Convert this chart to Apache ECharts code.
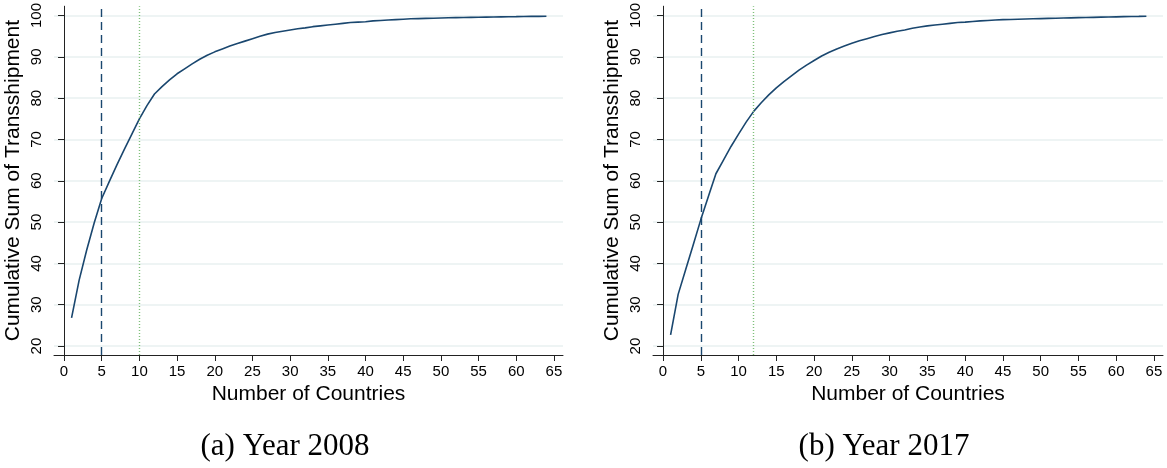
<!DOCTYPE html>
<html>
<head>
<meta charset="utf-8">
<script src="https://cdn.jsdelivr.net/npm/echarts@6/dist/echarts.min.js"></script>
<style>
  html, body { margin: 0; padding: 0; background: #fff; }
  #main { width: 1167px; height: 468px; }
</style>
</head>
<body>
<div id="main"></div>
<script>
// number of countries (x)
var countries = [1, 2, 3, 4, 5, 6, 7, 8, 9, 10, 11, 12, 13, 14, 15, 16,
  17, 18, 19, 20, 21, 22, 23, 24, 25, 26, 27, 28, 29, 30, 31, 32,
  33, 34, 35, 36, 37, 38, 39, 40, 41, 42, 43, 44, 45, 46, 47, 48,
  49, 50, 51, 52, 53, 54, 55, 56, 57, 58, 59, 60, 61, 62, 63, 64];

// cumulative sum of transshipment, year 2008
var cum2008 = [26.8, 35.9, 43.2, 49.8, 55.7, 59.8, 63.8, 67.6, 71.3, 75.0, 78.2, 81.0, 82.8, 84.4, 85.9, 87.1,
  88.3, 89.4, 90.4, 91.2, 91.9, 92.6, 93.2, 93.8, 94.4, 95.0, 95.5, 95.9, 96.2, 96.5, 96.8, 97.0,
  97.3, 97.5, 97.7, 97.9, 98.1, 98.3, 98.4, 98.5, 98.7, 98.8, 98.9, 99.0, 99.1, 99.2, 99.25, 99.3,
  99.35, 99.4, 99.45, 99.5, 99.53, 99.56, 99.59, 99.62, 99.65, 99.68, 99.7, 99.72, 99.75, 99.78, 99.8, 99.82];

// cumulative sum of transshipment, year 2017
var cum2017 = [22.7, 32.5, 38.5, 44.5, 50.6, 56.2, 61.7, 65.0, 68.3, 71.3, 74.2, 76.8, 78.9, 80.8, 82.5, 84.0,
  85.4, 86.8, 88.0, 89.1, 90.2, 91.1, 91.9, 92.6, 93.3, 93.9, 94.4, 94.9, 95.4, 95.8, 96.2, 96.5,
  96.9, 97.2, 97.5, 97.7, 97.9, 98.1, 98.3, 98.4, 98.55, 98.7, 98.8, 98.9, 99.0, 99.05, 99.1, 99.15,
  99.2, 99.25, 99.3, 99.35, 99.4, 99.44, 99.48, 99.52, 99.56, 99.6, 99.64, 99.68, 99.72, 99.75, 99.78, 99.82];

var xTicks = [0, 5, 10, 15, 20, 25, 30, 35, 40, 45, 50, 55, 60, 65];
var yTicks = [20, 30, 40, 50, 60, 70, 80, 90, 100];
var dashLine = [5, 5];      // dashed reference lines (a), (b)
var dotLine = [10, 12];     // dotted reference lines (a), (b)
var captions = ['(a) Year 2008', '(b) Year 2017'];

var navy = '#1a476f';
var sans = 'Liberation Sans, Arial, sans-serif';

function pair(ys) {
  return ys.map(function (v, i) { return [countries[i], v]; });
}

function xAxisOf(idx) {
  return {
    gridIndex: idx, type: 'value', min: -1.33, max: 66.2,
    name: 'Number of Countries', nameLocation: 'middle', nameGap: 28,
    nameTextStyle: { fontFamily: sans, fontSize: 21, color: '#000' },
    axisLine: { lineStyle: { color: '#222', width: 1 } },
    axisTick: { length: 6, customValues: xTicks, lineStyle: { color: '#222' } },
    axisLabel: { customValues: xTicks, margin: 9, fontFamily: sans, fontSize: 15, color: '#000' },
    splitLine: { show: false }
  };
}

function yAxisOf(idx) {
  return {
    gridIndex: idx, type: 'value', min: 17.83, max: 102.25,
    name: 'Cumulative Sum of Transshipment', nameLocation: 'middle', nameGap: 30,
    nameTextStyle: { fontFamily: sans, fontSize: 21, color: '#000' },
    axisLine: { show: true, lineStyle: { color: '#222', width: 1 } },
    axisTick: { show: true, length: 6, customValues: yTicks, lineStyle: { color: '#222' } },
    axisLabel: { customValues: yTicks, rotate: 90, margin: 10, fontFamily: sans, fontSize: 15, color: '#000' },
    splitLine: { show: true, lineStyle: { color: '#e8f0f1', width: 1.5 } }
  };
}

function seriesOf(idx, ys) {
  return {
    type: 'line', xAxisIndex: idx, yAxisIndex: idx,
    data: pair(ys), showSymbol: false, symbol: 'none',
    lineStyle: { color: navy, width: 1.6 },
    silent: true, animation: false,
    markLine: {
      symbol: 'none', silent: true, animation: false,
      label: { show: false },
      data: [
        { xAxis: dashLine[idx], lineStyle: { color: navy, type: [8, 5], width: 1.4 } },
        { xAxis: dotLine[idx], lineStyle: { color: '#7fc07a', type: [1, 2], width: 1.4 } }
      ]
    }
  };
}

var myChart = echarts.init(document.getElementById('main'));
var option = {
  backgroundColor: '#fff',
  animation: false,
  grid: [
    { left: 54, right: 604, top: 6, bottom: 113 },
    { left: 653, right: 4, top: 6, bottom: 113 }
  ],
  xAxis: [xAxisOf(0), xAxisOf(1)],
  yAxis: [yAxisOf(0), yAxisOf(1)],
  series: [seriesOf(0, cum2008), seriesOf(1, cum2017)],
  graphic: [
    { type: 'text', x: 285, y: 447, style: { text: captions[0], fontFamily: 'Liberation Serif, serif', fontSize: 31, fill: '#000', align: 'center', verticalAlign: 'middle' } },
    { type: 'text', x: 884, y: 447, style: { text: captions[1], fontFamily: 'Liberation Serif, serif', fontSize: 31, fill: '#000', align: 'center', verticalAlign: 'middle' } }
  ]
};
myChart.setOption(option, true);
window.addEventListener('resize', function () {
  myChart.resize();
});
</script>
</body>
</html>
